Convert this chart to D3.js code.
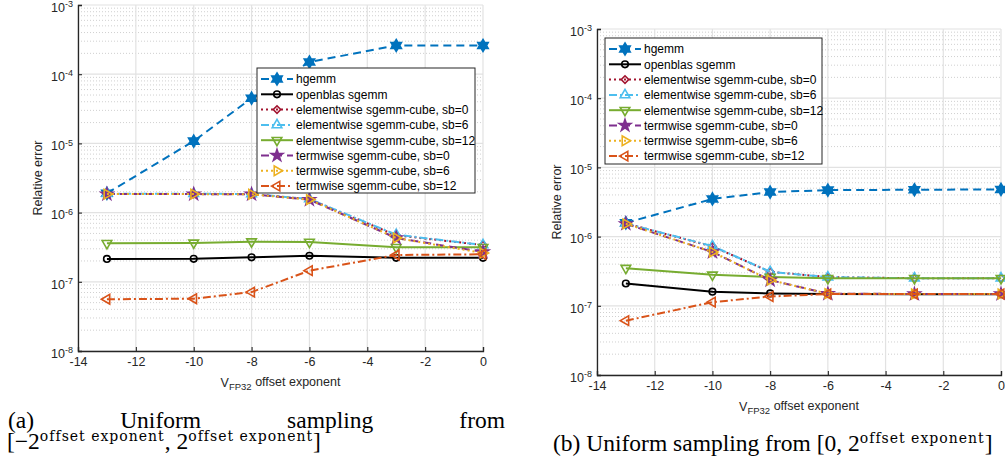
<!DOCTYPE html>
<html>
<head>
<meta charset="utf-8">
<script src="https://cdn.jsdelivr.net/npm/d3@7"></script>
<style>
  body { margin: 0; background: #fff; }
  svg { display: block; }
</style>
</head>
<body>
<script>
// x positions shared by every series
const xExp = [-13, -10, -8, -6, -3, 0];
const xTicks = [-14, -12, -10, -8, -6, -4, -2, 0];
const yTicks = [1e-8, 1e-7, 1e-6, 1e-5, 1e-4, 1e-3];

const seriesNames = [
  'hgemm',
  'openblas sgemm',
  'elementwise sgemm-cube, sb=0',
  'elementwise sgemm-cube, sb=6',
  'elementwise sgemm-cube, sb=12',
  'termwise sgemm-cube, sb=0',
  'termwise sgemm-cube, sb=6',
  'termwise sgemm-cube, sb=12'
];
const seriesColors = ['#0072BD', '#000000', '#A2142F', '#4DBEEE', '#77AC30', '#7E2F8E', '#EDB120', '#D95319'];
const seriesDash = ['8,5', null, '2,3', '8,3,2,3', null, '8,5', '2,3', '8,3,2,3'];
const seriesMarker = ['hexagram', 'circle', 'diamond', 'triUp', 'triDown', 'pentagram', 'triRight', 'triLeft'];

// (a) uniform sampling from [-2^e, 2^e]
const aHgemm    = [1.9e-6, 1.08e-5, 4.5e-5, 1.5e-4, 2.6e-4, 2.6e-4];
const aOpenblas = [2.14e-7, 2.15e-7, 2.26e-7, 2.38e-7, 2.22e-7, 2.22e-7];
const aElem0    = [1.86e-6, 1.86e-6, 1.85e-6, 1.56e-6, 4.7e-7, 3.4e-7];
const aElem6    = [1.87e-6, 1.87e-6, 1.86e-6, 1.57e-6, 4.8e-7, 3.4e-7];
const aElem12   = [3.6e-7, 3.65e-7, 3.8e-7, 3.75e-7, 3.15e-7, 3.15e-7];
const aTerm0    = [1.85e-6, 1.85e-6, 1.84e-6, 1.54e-6, 4.3e-7, 2.7e-7];
const aTerm6    = [1.85e-6, 1.85e-6, 1.84e-6, 1.54e-6, 4.3e-7, 2.6e-7];
const aTerm12   = [5.6e-8, 5.7e-8, 7.1e-8, 1.45e-7, 2.44e-7, 2.5e-7];

// (b) uniform sampling from [0, 2^e]
const bHgemm    = [1.58e-6, 3.5e-6, 4.4e-6, 4.7e-6, 4.75e-6, 4.8e-6];
const bOpenblas = [2.1e-7, 1.6e-7, 1.51e-7, 1.48e-7, 1.47e-7, 1.47e-7];
const bElem0    = [1.55e-6, 7.2e-7, 3.1e-7, 2.6e-7, 2.5e-7, 2.5e-7];
const bElem6    = [1.55e-6, 7.3e-7, 3.1e-7, 2.6e-7, 2.5e-7, 2.5e-7];
const bElem12   = [3.5e-7, 2.8e-7, 2.6e-7, 2.5e-7, 2.5e-7, 2.5e-7];
const bTerm0    = [1.53e-6, 6.0e-7, 2.35e-7, 1.5e-7, 1.48e-7, 1.48e-7];
const bTerm6    = [1.53e-6, 6.0e-7, 2.35e-7, 1.5e-7, 1.48e-7, 1.48e-7];
const bTerm12   = [6.1e-8, 1.13e-7, 1.36e-7, 1.48e-7, 1.48e-7, 1.48e-7];

const W = 1005, H = 461;
const sansFont = '"Liberation Sans", Arial, sans-serif';
const serifFont = '"Liberation Serif", "Times New Roman", serif';
const supFont = '"DejaVu Serif", serif';

const svg = d3.select('body').append('svg')
  .attr('width', W)
  .attr('height', H);

// six-pointed star, MATLAB 'hexagram'
const hexagram = {
  draw(ctx, r) {
    for (let i = 0; i < 12; i++) {
      let a = -Math.PI / 2 + i * Math.PI / 6;
      let rr = i % 2 === 0 ? r : r / Math.sqrt(3);
      let px = rr * Math.cos(a), py = rr * Math.sin(a);
      if (i === 0) ctx.moveTo(px, py); else ctx.lineTo(px, py);
    }
    ctx.closePath();
  }
};

function markerPath(type) {
  if (type === 'hexagram') return { d: d3.symbol().type(hexagram).size(6)(), rot: 0, fill: true };
  if (type === 'circle') return { d: d3.symbol().type(d3.symbolCircle).size(34)(), rot: 0 };
  if (type === 'diamond') return { d: d3.symbol().type(d3.symbolSquare).size(28)(), rot: 45 };
  if (type === 'pentagram') return { d: d3.symbol().type(d3.symbolStar).size(42)(), rot: 0, fill: true };
  let rot = { triUp: 0, triDown: 180, triRight: 90, triLeft: 270 }[type];
  return { d: d3.symbol().type(d3.symbolTriangle).size(40)(), rot: rot };
}

function drawMarker(g, type, color, x, y) {
  let m = markerPath(type);
  g.append('path')
    .attr('d', m.d)
    .attr('transform', `translate(${x},${y}) rotate(${m.rot})`)
    .attr('fill', m.fill ? color : 'none')
    .attr('stroke', color)
    .attr('stroke-width', 1.6);
}

function drawPanel(cfg) {
  let x = d3.scaleLinear().domain([-14, 0]).range([cfg.left, cfg.right]);
  let y = d3.scaleLog().domain([1e-8, 1e-3]).range([cfg.bottom, cfg.top]);

  let grid = svg.append('g').attr('class', 'grid');
  // minor y grid (dotted)
  let minor = [];
  for (let e = -8; e < -3; e++) {
    for (let k = 2; k <= 9; k++) minor.push(k * Math.pow(10, e));
  }
  grid.selectAll('.minor').data(minor).enter().append('line')
    .attr('x1', cfg.left).attr('x2', cfg.right)
    .attr('y1', d => y(d)).attr('y2', d => y(d))
    .attr('stroke', '#c4c4c4').attr('stroke-width', 0.8)
    .attr('stroke-dasharray', '1,2');
  grid.selectAll('.hmaj').data(yTicks).enter().append('line')
    .attr('x1', cfg.left).attr('x2', cfg.right)
    .attr('y1', d => y(d)).attr('y2', d => y(d))
    .attr('stroke', '#e2e2e2').attr('stroke-width', 1.2);
  grid.selectAll('.vmaj').data(xTicks).enter().append('line')
    .attr('x1', d => x(d)).attr('x2', d => x(d))
    .attr('y1', cfg.top).attr('y2', cfg.bottom)
    .attr('stroke', '#e2e2e2').attr('stroke-width', 1.2);

  // axes
  let axX = svg.append('g')
    .attr('transform', `translate(0,${cfg.bottom})`)
    .call(d3.axisBottom(x).tickValues(xTicks).tickSize(-4).tickPadding(6).tickFormat(d => String(d)));
  let axY = svg.append('g')
    .attr('transform', `translate(${cfg.left},0)`)
    .call(d3.axisLeft(y).tickValues(yTicks).tickSize(-4).tickPadding(5).tickFormat(() => ''));
  [axX, axY].forEach(ax => {
    ax.select('.domain').attr('stroke', '#262626').attr('stroke-width', 1.3);
    ax.selectAll('.tick line').attr('stroke', '#262626').attr('stroke-width', 1.1);
    ax.selectAll('text').attr('fill', '#262626').attr('font-family', sansFont).attr('font-size', 12.5);
  });
  axY.selectAll('.tick text').each(function (d) {
    let t = d3.select(this).attr('dy', '0.5em');
    t.append('tspan').text('10');
    t.append('tspan').attr('dy', '-0.5em').attr('font-size', 9).text(String(Math.round(Math.log10(d))));
  });

  // axis labels
  let xl = svg.append('text')
    .attr('x', (cfg.left + cfg.right) / 2)
    .attr('y', cfg.bottom + 36)
    .attr('text-anchor', 'middle')
    .attr('font-family', sansFont).attr('font-size', 12.5).attr('fill', '#262626');
  xl.append('tspan').text('V');
  xl.append('tspan').attr('dy', '0.35em').attr('font-size', 9.5).text('FP32');
  xl.append('tspan').attr('dy', '-0.35em').text(' offset exponent');

  svg.append('text')
    .attr('transform', `translate(${cfg.ylabelX},${(cfg.top + cfg.bottom) / 2}) rotate(-90)`)
    .attr('text-anchor', 'middle')
    .attr('font-family', sansFont).attr('font-size', 12.5).attr('fill', '#262626')
    .text('Relative error');

  // series lines then markers, in plotting order
  let line = d3.line().x((d, i) => x(xExp[i])).y(d => y(d));
  cfg.values.forEach((vals, s) => {
    let g = svg.append('g').attr('class', 'series');
    g.append('path')
      .attr('d', line(vals))
      .attr('fill', 'none')
      .attr('stroke', seriesColors[s])
      .attr('stroke-width', 2)
      .attr('stroke-dasharray', seriesDash[s]);
    vals.forEach((v, i) => drawMarker(g, seriesMarker[s], seriesColors[s], x(xExp[i]), y(v)));
  });

  // legend
  let lg = svg.append('g').attr('transform', `translate(${cfg.legend.x},${cfg.legend.y})`);
  lg.append('rect')
    .attr('width', cfg.legend.w).attr('height', cfg.legend.h)
    .attr('fill', '#fff').attr('stroke', '#262626').attr('stroke-width', 1);
  seriesNames.forEach((name, s) => {
    let ry = 11 + s * 15.3;
    lg.append('line')
      .attr('x1', 4).attr('x2', 36).attr('y1', ry).attr('y2', ry)
      .attr('stroke', seriesColors[s]).attr('stroke-width', 2)
      .attr('stroke-dasharray', seriesDash[s]);
    drawMarker(lg, seriesMarker[s], seriesColors[s], 20, ry);
    lg.append('text')
      .attr('x', 39).attr('y', ry + 4.3)
      .attr('font-family', sansFont).attr('font-size', 12).attr('fill', '#000')
      .text(name);
  });
}

drawPanel({
  values: [aHgemm, aOpenblas, aElem0, aElem6, aElem12, aTerm0, aTerm6, aTerm12],
  left: 78, right: 483, top: 5, bottom: 351,
  ylabelX: 42,
  legend: { x: 257, y: 68, w: 218, h: 125 }
});

drawPanel({
  values: [bHgemm, bOpenblas, bElem0, bElem6, bElem12, bTerm0, bTerm6, bTerm12],
  left: 597, right: 1001, top: 29, bottom: 375,
  ylabelX: 561,
  legend: { x: 605, y: 38, w: 217, h: 126 }
});

// captions
const capSize = 23.5, supSize = 14, supRaise = 8;
function addSup(t, str) {
  t.append('tspan').attr('dy', -supRaise)
    .attr('font-family', supFont).attr('font-size', supSize)
    .attr('letter-spacing', 1).text(str);
}

const capA = ['(a)', 'Uniform', 'sampling', 'from'];
let widths = capA.map(w => {
  let t = svg.append('text').attr('font-family', serifFont).attr('font-size', capSize).text(w);
  let len = t.node().getComputedTextLength();
  t.remove();
  return len;
});
let gap = (505 - 8 - d3.sum(widths)) / (capA.length - 1);
let cx = 8;
capA.forEach((w, i) => {
  svg.append('text')
    .attr('x', cx).attr('y', 428)
    .attr('font-family', serifFont).attr('font-size', capSize).attr('fill', '#000')
    .text(w);
  cx += widths[i] + gap;
});

let capA2 = svg.append('text')
  .attr('x', 7).attr('y', 449)
  .attr('font-family', serifFont).attr('font-size', capSize).attr('fill', '#000');
capA2.append('tspan').text('[\u22122');
addSup(capA2, 'offset exponent');
capA2.append('tspan').attr('dy', supRaise).text(', 2');
addSup(capA2, 'offset exponent');
capA2.append('tspan').attr('dy', supRaise).text(']');

let capB = svg.append('text')
  .attr('x', 553).attr('y', 451)
  .attr('font-family', serifFont).attr('font-size', capSize).attr('fill', '#000');
capB.append('tspan').text('(b) Uniform sampling from [0, 2');
addSup(capB, 'offset exponent');
capB.append('tspan').attr('dy', supRaise).text(']');
</script>
</body>
</html>
